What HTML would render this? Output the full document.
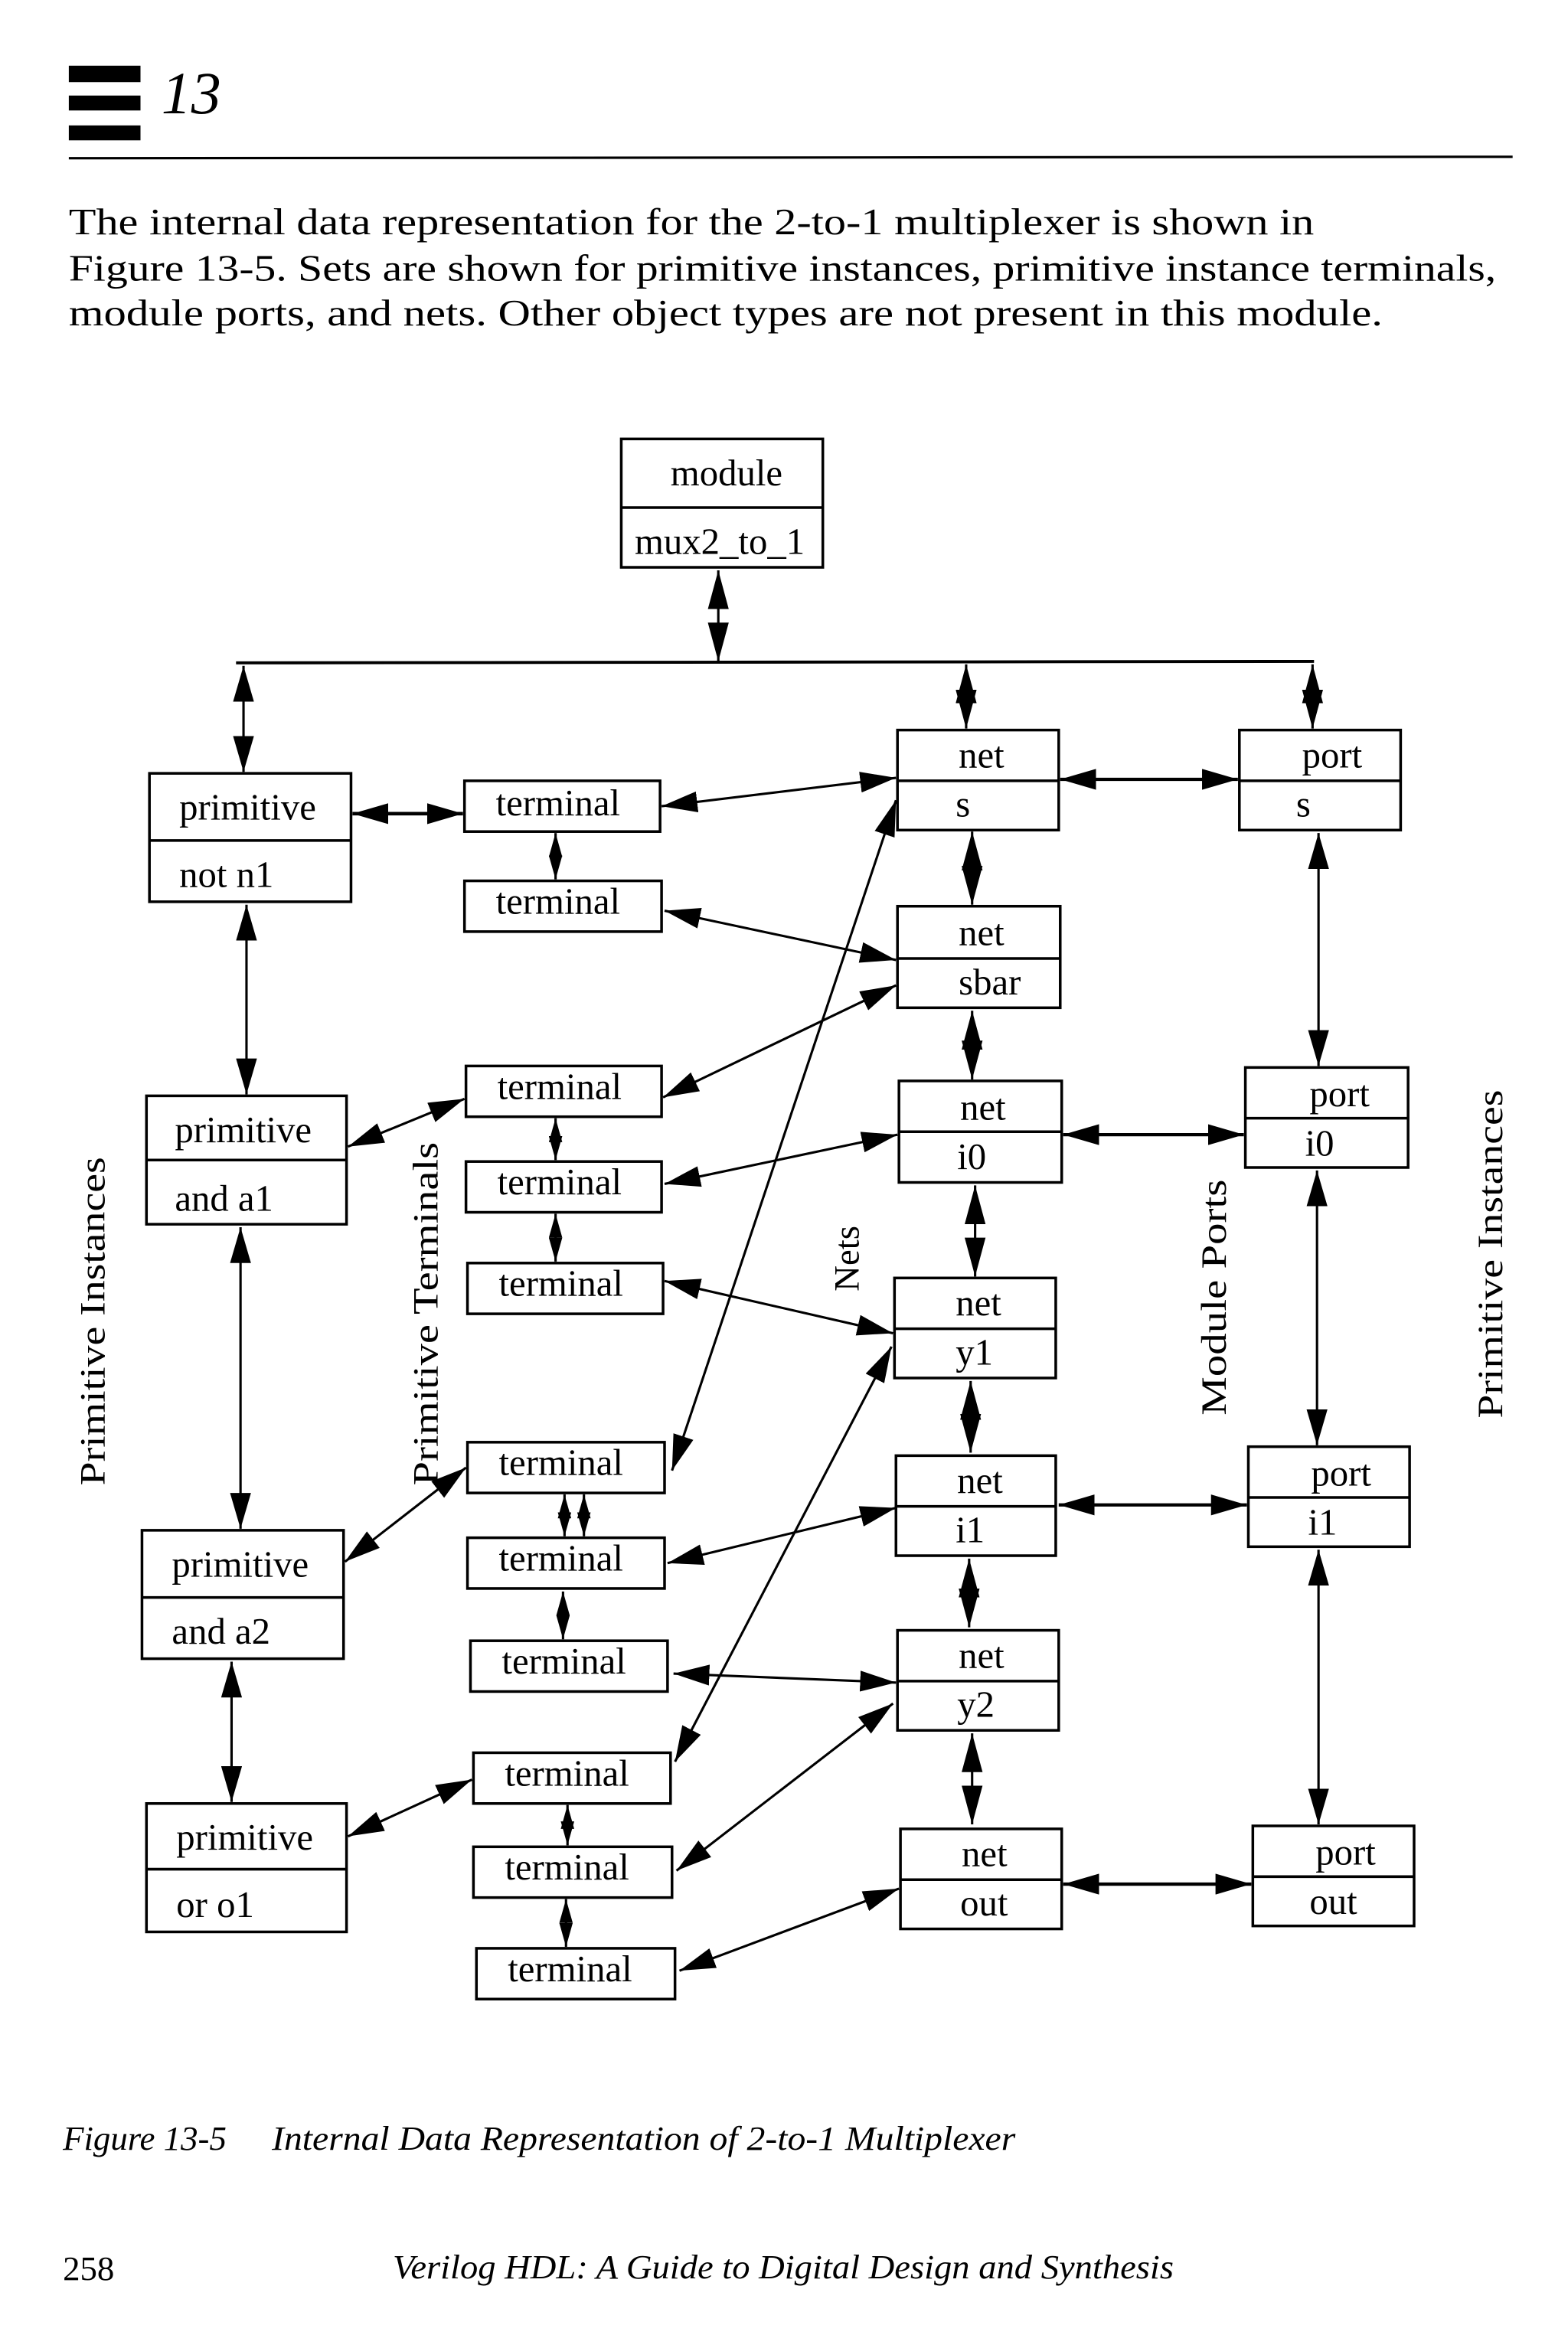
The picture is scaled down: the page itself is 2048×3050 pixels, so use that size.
<!DOCTYPE html>
<html><head><meta charset="utf-8"><style>
html,body{margin:0;padding:0;background:#fff}
svg{display:block}
text{font-family:"Liberation Serif",serif;fill:#000}
</style></head><body>
<svg width="2048" height="3050" viewBox="0 0 1050 1564" xmlns="http://www.w3.org/2000/svg">
<defs>
<marker id="a" markerUnits="userSpaceOnUse" markerWidth="24" markerHeight="14" viewBox="0 0 24 14" refX="24" refY="7" orient="auto-start-reverse"><path d="M0,0 L24,7 L0,14 z" fill="#000"/></marker>
<marker id="d" markerUnits="userSpaceOnUse" markerWidth="16" markerHeight="9" viewBox="0 0 16 9" refX="16" refY="4.5" orient="auto-start-reverse"><path d="M0,0 L16,4.5 L0,9 z" fill="#000"/></marker>
<marker id="D" markerUnits="userSpaceOnUse" markerWidth="26" markerHeight="14" viewBox="0 0 26 14" refX="26" refY="7" orient="auto-start-reverse"><path d="M0,0 L26,7 L0,14 z" fill="#000"/></marker>
</defs>

<!-- header -->
<rect x="46" y="44" width="48" height="11" fill="#000"/>
<rect x="46" y="64" width="48" height="10" fill="#000"/>
<rect x="46" y="84" width="48" height="10" fill="#000"/>
<text x="108" y="76" font-size="40" font-style="italic">13</text>
<line x1="46" y1="106" x2="1013" y2="105" stroke="#000" stroke-width="1.6"/>

<g font-size="25">
<text x="46" y="157" textLength="834" lengthAdjust="spacingAndGlyphs">The internal data representation for the 2-to-1 multiplexer is shown in</text>
<text x="46" y="188" textLength="956" lengthAdjust="spacingAndGlyphs">Figure 13-5. Sets are shown for primitive instances, primitive instance terminals,</text>
<text x="46" y="218" textLength="880" lengthAdjust="spacingAndGlyphs">module ports, and nets. Other object types are not present in this module.</text>
</g>

<g fill="none" stroke="#000" stroke-width="1.8">
<!-- module -->
<rect x="416" y="294" width="135" height="86"/><line x1="416" y1="340" x2="551" y2="340"/>
<!-- primitives -->
<rect x="100" y="518" width="135" height="86"/><line x1="100" y1="563" x2="235" y2="563"/>
<rect x="98" y="734" width="134" height="86"/><line x1="98" y1="777" x2="232" y2="777"/>
<rect x="95" y="1025" width="135" height="86"/><line x1="95" y1="1070" x2="230" y2="1070"/>
<rect x="98" y="1208" width="134" height="86"/><line x1="98" y1="1252" x2="232" y2="1252"/>
<!-- terminals -->
<rect x="311" y="523" width="131" height="34"/>
<rect x="311" y="590" width="132" height="34"/>
<rect x="312" y="714" width="131" height="34"/>
<rect x="312" y="778" width="131" height="34"/>
<rect x="313" y="846" width="131" height="34"/>
<rect x="313" y="966" width="132" height="34"/>
<rect x="313" y="1030" width="132" height="34"/>
<rect x="315" y="1099" width="132" height="34"/>
<rect x="317" y="1174" width="132" height="34"/>
<rect x="317" y="1237" width="133" height="34"/>
<rect x="319" y="1305" width="133" height="34"/>
<!-- nets -->
<rect x="601" y="489" width="108" height="67"/><line x1="601" y1="523" x2="709" y2="523"/>
<rect x="601" y="607" width="109" height="68"/><line x1="601" y1="642" x2="710" y2="642"/>
<rect x="602" y="724" width="109" height="68"/><line x1="602" y1="758" x2="711" y2="758"/>
<rect x="599" y="856" width="108" height="67"/><line x1="599" y1="890" x2="707" y2="890"/>
<rect x="600" y="975" width="107" height="67"/><line x1="600" y1="1009" x2="707" y2="1009"/>
<rect x="601" y="1092" width="108" height="67"/><line x1="601" y1="1126" x2="709" y2="1126"/>
<rect x="603" y="1225" width="108" height="67"/><line x1="603" y1="1259" x2="711" y2="1259"/>
<!-- ports -->
<rect x="830" y="489" width="108" height="67"/><line x1="830" y1="523" x2="938" y2="523"/>
<rect x="834" y="715" width="109" height="67"/><line x1="834" y1="749" x2="943" y2="749"/>
<rect x="836" y="969" width="108" height="67"/><line x1="836" y1="1003" x2="944" y2="1003"/>
<rect x="839" y="1223" width="108" height="67"/><line x1="839" y1="1257" x2="947" y2="1257"/>
</g>

<g font-size="25">
<text x="449" y="325">module</text>
<text x="425" y="371">mux2_to_1</text>
<text x="120" y="549">primitive</text><text x="120" y="594">not n1</text>
<text x="117" y="765">primitive</text><text x="117" y="811">and a1</text>
<text x="115" y="1056">primitive</text><text x="115" y="1101">and a2</text>
<text x="118" y="1239">primitive</text><text x="118" y="1284">or o1</text>
<text x="332" y="546">terminal</text>
<text x="332" y="612">terminal</text>
<text x="333" y="736">terminal</text>
<text x="333" y="800">terminal</text>
<text x="334" y="868">terminal</text>
<text x="334" y="988">terminal</text>
<text x="334" y="1052">terminal</text>
<text x="336" y="1121">terminal</text>
<text x="338" y="1196">terminal</text>
<text x="338" y="1259">terminal</text>
<text x="340" y="1327">terminal</text>
<text x="642" y="514">net</text><text x="640" y="547">s</text>
<text x="642" y="633">net</text><text x="642" y="666">sbar</text>
<text x="643" y="750">net</text><text x="641" y="783">i0</text>
<text x="640" y="881">net</text><text x="640" y="914">y1</text>
<text x="641" y="1000">net</text><text x="640" y="1033">i1</text>
<text x="642" y="1117">net</text><text x="641" y="1150">y2</text>
<text x="644" y="1250">net</text><text x="643" y="1283">out</text>
<text x="872" y="514">port</text><text x="868" y="547">s</text>
<text x="877" y="741">port</text><text x="874" y="774">i0</text>
<text x="878" y="995">port</text><text x="876" y="1028">i1</text>
<text x="881" y="1249">port</text><text x="877" y="1282">out</text>
</g>

<!-- vertical labels -->
<g font-size="24">
<text transform="translate(70,885) rotate(-90)" text-anchor="middle" textLength="220" lengthAdjust="spacingAndGlyphs">Primitive Instances</text>
<text transform="translate(293,880) rotate(-90)" text-anchor="middle" textLength="230" lengthAdjust="spacingAndGlyphs">Primitive Terminals</text>
<text transform="translate(575,843) rotate(-90)" text-anchor="middle">Nets</text>
<text transform="translate(821,869) rotate(-90)" text-anchor="middle" textLength="158" lengthAdjust="spacingAndGlyphs">Module Ports</text>
<text transform="translate(1006,840) rotate(-90)" text-anchor="middle" textLength="220" lengthAdjust="spacingAndGlyphs">Primitive Instances</text>
</g>

<!-- connectors -->
<g stroke="#000" stroke-width="1.6" fill="none">
<line x1="158" y1="444" x2="880" y2="443" stroke-width="2"/>
<line x1="481" y1="382" x2="481" y2="443" marker-start="url(#D)" marker-end="url(#D)"/>
<line x1="163" y1="446" x2="163" y2="517" marker-start="url(#a)" marker-end="url(#a)"/>
<line x1="647" y1="445" x2="647" y2="488" marker-start="url(#D)" marker-end="url(#D)"/>
<line x1="879" y1="445" x2="879" y2="488" marker-start="url(#D)" marker-end="url(#D)"/>

<line x1="236" y1="545" x2="310" y2="545" marker-start="url(#a)" marker-end="url(#a)" stroke-width="2.4"/>
<line x1="443" y1="540" x2="600" y2="521" marker-start="url(#a)" marker-end="url(#a)"/>
<line x1="372" y1="558" x2="372" y2="589" marker-start="url(#d)" marker-end="url(#d)"/>
<line x1="445" y1="610" x2="600" y2="643" marker-start="url(#a)" marker-end="url(#a)"/>
<line x1="651" y1="557" x2="651" y2="606" marker-start="url(#D)" marker-end="url(#D)"/>
<line x1="710" y1="522" x2="829" y2="522" marker-start="url(#a)" marker-end="url(#a)" stroke-width="2.2"/>
<line x1="883" y1="558" x2="883" y2="714" marker-start="url(#a)" marker-end="url(#a)"/>
<line x1="165" y1="606" x2="165" y2="733" marker-start="url(#a)" marker-end="url(#a)"/>
<line x1="444" y1="735" x2="600" y2="660" marker-start="url(#a)" marker-end="url(#a)"/>
<line x1="233" y1="768" x2="311" y2="736" marker-start="url(#a)" marker-end="url(#a)"/>
<line x1="372" y1="749" x2="372" y2="777" marker-start="url(#d)" marker-end="url(#d)"/>
<line x1="445" y1="793" x2="601" y2="760" marker-start="url(#a)" marker-end="url(#a)"/>
<line x1="651" y1="677" x2="651" y2="723" marker-start="url(#D)" marker-end="url(#D)"/>
<line x1="712" y1="760" x2="833" y2="760" marker-start="url(#a)" marker-end="url(#a)" stroke-width="2.2"/>
<line x1="372" y1="813" x2="372" y2="845" marker-start="url(#d)" marker-end="url(#d)"/>
<line x1="445" y1="858" x2="598" y2="893" marker-start="url(#a)" marker-end="url(#a)"/>
<line x1="653" y1="794" x2="653" y2="855" marker-start="url(#D)" marker-end="url(#D)"/>
<line x1="882" y1="784" x2="882" y2="968" marker-start="url(#a)" marker-end="url(#a)"/>
<line x1="161" y1="822" x2="161" y2="1024" marker-start="url(#a)" marker-end="url(#a)"/>
<line x1="450" y1="985" x2="600" y2="536" marker-start="url(#a)" marker-end="url(#a)"/>
<line x1="231" y1="1046" x2="312" y2="983" marker-start="url(#a)" marker-end="url(#a)"/>
<line x1="378" y1="1001" x2="378" y2="1029" marker-start="url(#d)" marker-end="url(#d)"/>
<line x1="391" y1="1001" x2="391" y2="1029" marker-start="url(#d)" marker-end="url(#d)"/>
<line x1="447" y1="1047" x2="600" y2="1010" marker-start="url(#a)" marker-end="url(#a)"/>
<line x1="650" y1="925" x2="650" y2="973" marker-start="url(#D)" marker-end="url(#D)"/>
<line x1="709" y1="1008" x2="835" y2="1008" marker-start="url(#a)" marker-end="url(#a)" stroke-width="2.2"/>
<line x1="377" y1="1066" x2="377" y2="1098" marker-start="url(#d)" marker-end="url(#d)"/>
<line x1="451" y1="1121" x2="600" y2="1127" marker-start="url(#a)" marker-end="url(#a)"/>
<line x1="452" y1="1180" x2="597" y2="902" marker-start="url(#a)" marker-end="url(#a)"/>
<line x1="649" y1="1044" x2="649" y2="1090" marker-start="url(#D)" marker-end="url(#D)"/>
<line x1="155" y1="1113" x2="155" y2="1207" marker-start="url(#a)" marker-end="url(#a)"/>
<line x1="233" y1="1230" x2="316" y2="1192" marker-start="url(#a)" marker-end="url(#a)"/>
<line x1="380" y1="1209" x2="380" y2="1236" marker-start="url(#d)" marker-end="url(#d)"/>
<line x1="453" y1="1253" x2="598" y2="1141" marker-start="url(#a)" marker-end="url(#a)"/>
<line x1="651" y1="1161" x2="651" y2="1222" marker-start="url(#D)" marker-end="url(#D)"/>
<line x1="379" y1="1272" x2="379" y2="1304" marker-start="url(#d)" marker-end="url(#d)"/>
<line x1="455" y1="1320" x2="602" y2="1265" marker-start="url(#a)" marker-end="url(#a)"/>
<line x1="712" y1="1262" x2="838" y2="1262" marker-start="url(#a)" marker-end="url(#a)" stroke-width="2.2"/>
<line x1="883" y1="1038" x2="883" y2="1222" marker-start="url(#a)" marker-end="url(#a)"/>
</g>

<g font-size="23" font-style="italic">
<text x="42" y="1440">Figure 13-5</text>
<text x="182" y="1440" textLength="498" lengthAdjust="spacingAndGlyphs">Internal Data Representation of 2-to-1 Multiplexer</text>
<text x="42" y="1527" font-style="normal">258</text>
<text x="263" y="1526" textLength="523" lengthAdjust="spacingAndGlyphs">Verilog HDL: A Guide to Digital Design and Synthesis</text>
</g>
</svg>
</body></html>
